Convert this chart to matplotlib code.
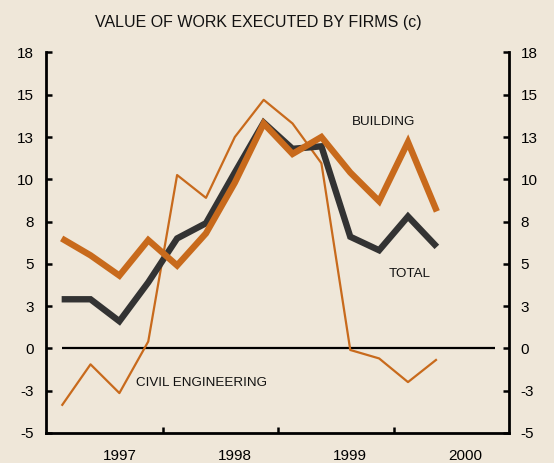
import matplotlib.pyplot as plt
import numpy as np
from matplotlib.ticker import FixedLocator, FixedFormatter, NullFormatter

plt.rcParams["font.family"] = ["Liberation Sans", "DejaVu Sans"]

# quarterly series, percent change
quarters = np.arange(14)
building = [6.5, 5.5, 4.3, 6.4, 4.9, 6.8, 9.8, 13.3, 11.5, 12.5, 10.4, 8.7, 12.2, 8.1]
total = [2.9, 2.9, 1.6, 3.9, 6.5, 7.4, 10.4, 13.35, 11.8, 11.95, 6.6, 5.8, 7.8, 6.0]
civil = [-3.4, -0.95, -2.65, 0.4, 10.25, 8.9, 12.5, 14.7, 13.3, 10.95, -0.1, -0.6, -2.0, -0.65]

year_labels = ["1997", "1998", "1999", "2000"]
year_label_pos = [2, 6, 10, 14]
year_ticks = [3.5, 7.5, 11.5]
y_ticks = [-5, -2.5, 0, 2.5, 5, 7.5, 10, 12.5, 15, 17.5]
y_tick_labels = ["-5", "-3", "0", "3", "5", "8", "10", "13", "15", "18"]

BG = "#EFE7D9"
ORANGE = "#C86A1C"
DARK = "#333333"

fig = plt.figure(figsize=(5.54, 4.63), dpi=100, facecolor=BG)
ax = fig.add_axes([45.5 / 554, (463 - 432.8) / 463, (509 - 45.5) / 554, (432.8 - 52.5) / 463])
ax.set_facecolor(BG)

ax.plot([0, 15], [0, 0], color="black", lw=1.6, solid_capstyle="butt", zorder=1)
ax.plot(quarters, civil, color=ORANGE, lw=1.6, solid_capstyle="butt", zorder=2)
ax.plot(quarters, total, color=DARK, lw=4.6, solid_capstyle="butt", solid_joinstyle="miter", zorder=3)
ax.plot(quarters, building, color=ORANGE, lw=4.6, solid_capstyle="butt", solid_joinstyle="miter", zorder=4)

ax.set_xlim(-0.56, 15.5)
ax.set_ylim(-5, 17.5)

for side in ["left", "right", "bottom"]:
    ax.spines[side].set_linewidth(2)
ax.spines["top"].set_visible(False)

ax.yaxis.set_major_locator(FixedLocator(y_ticks))
ax.yaxis.set_major_formatter(FixedFormatter(y_tick_labels))
ax.tick_params(axis="y", which="major", direction="in", length=4.5, width=1.8,
               left=True, right=True, labelleft=True, labelright=True,
               labelsize=11, pad=8.5, colors="black")

ax.xaxis.set_major_locator(FixedLocator(year_ticks))
ax.xaxis.set_major_formatter(NullFormatter())
ax.xaxis.set_minor_locator(FixedLocator(year_label_pos))
ax.xaxis.set_minor_formatter(FixedFormatter(year_labels))
ax.tick_params(axis="x", which="major", direction="in", length=4.5, width=1.8)
ax.tick_params(axis="x", which="minor", length=0, labelsize=11, pad=11.5)

ax.text(11.14, 13.36, "BUILDING", fontsize=9.6, ha="center", va="center", color="#111111")
ax.text(12.05, 4.37, "TOTAL", fontsize=9.6, ha="center", va="center", color="#111111")
ax.text(4.86, -2.08, "CIVIL ENGINEERING", fontsize=9.6, ha="center", va="center", color="#111111")

fig.text(258 / 554, 1 - 23 / 463, "VALUE OF WORK EXECUTED BY FIRMS (c)", fontsize=11.5,
         ha="center", va="center", color="#111111")

fig.savefig("out.png", dpi=100, facecolor=BG)
